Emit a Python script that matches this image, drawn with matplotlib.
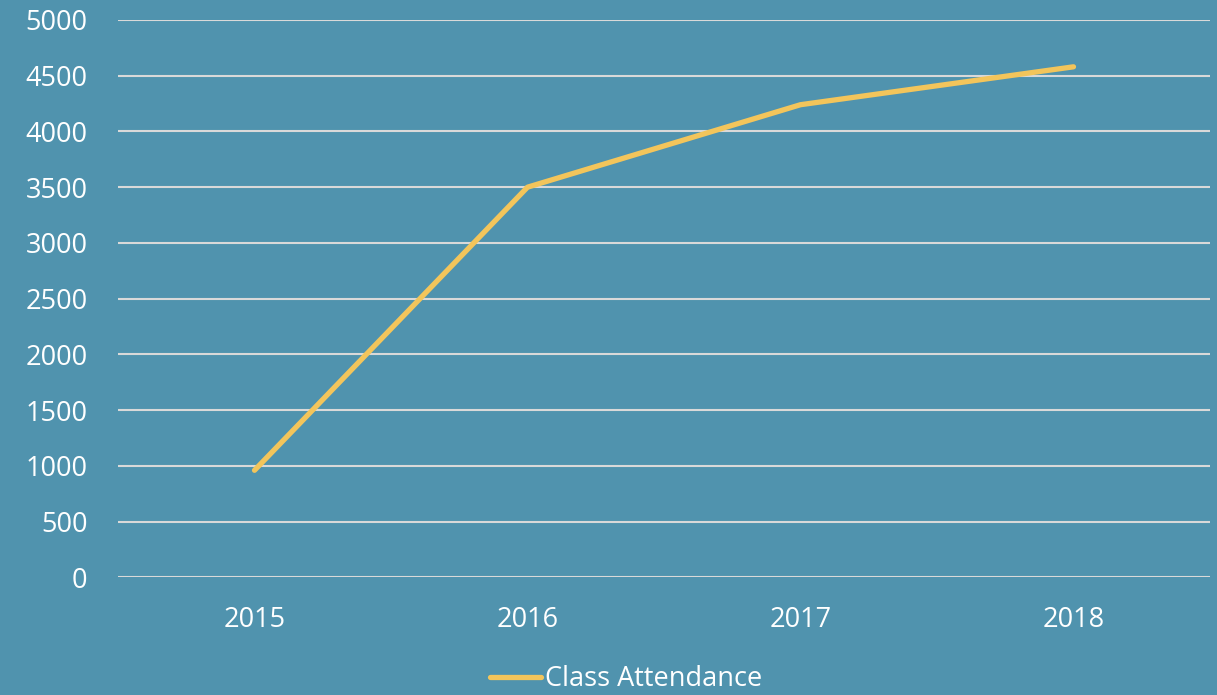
import matplotlib.pyplot as plt

# Data
years = ['2015', '2016', '2017', '2018']
attendance = [960, 3500, 4240, 4580]
y_ticks = [0, 500, 1000, 1500, 2000, 2500, 3000, 3500, 4000, 4500, 5000]

bg = '#5093AE'
line_color = '#F3C55B'

plt.rcParams['font.family'] = ['Open Sans', 'DejaVu Sans']

fig = plt.figure(figsize=(12.17, 6.95), dpi=100, facecolor=bg)
ax = fig.add_axes([118 / 1217, 117.7 / 695, (1210 - 118) / 1217, (577.3 - 20) / 695])
ax.set_facecolor(bg)

x = list(range(len(years)))
ax.plot(x, attendance, color=line_color, linewidth=3.8, solid_capstyle='round',
        label='Class Attendance')

ax.set_xlim(-0.5, len(years) - 0.5)
ax.set_ylim(0, 5000)
ax.set_yticks(y_ticks)
ax.set_yticklabels([str(v) for v in y_ticks])
ax.set_xticks(x)
ax.set_xticklabels(years)

ax.grid(axis='y', color='#D9D9D9', linewidth=1.5)
ax.set_axisbelow(True)
for s in ax.spines.values():
    s.set_visible(False)
ax.tick_params(axis='both', length=0, colors='white', labelsize=19.5)
ax.tick_params(axis='y', pad=22)
ax.tick_params(axis='x', pad=21)

# legend sits at the very bottom edge, as in the reference
leg = ax.legend(loc='center', frameon=False, fontsize=19.5, handlelength=1.9,
                handletextpad=0.15, labelcolor='white', borderpad=0)
leg.set_bbox_to_anchor((626 / 1217, 16 / 695), transform=fig.transFigure)

fig.savefig('out.png', dpi=100, facecolor=bg)
